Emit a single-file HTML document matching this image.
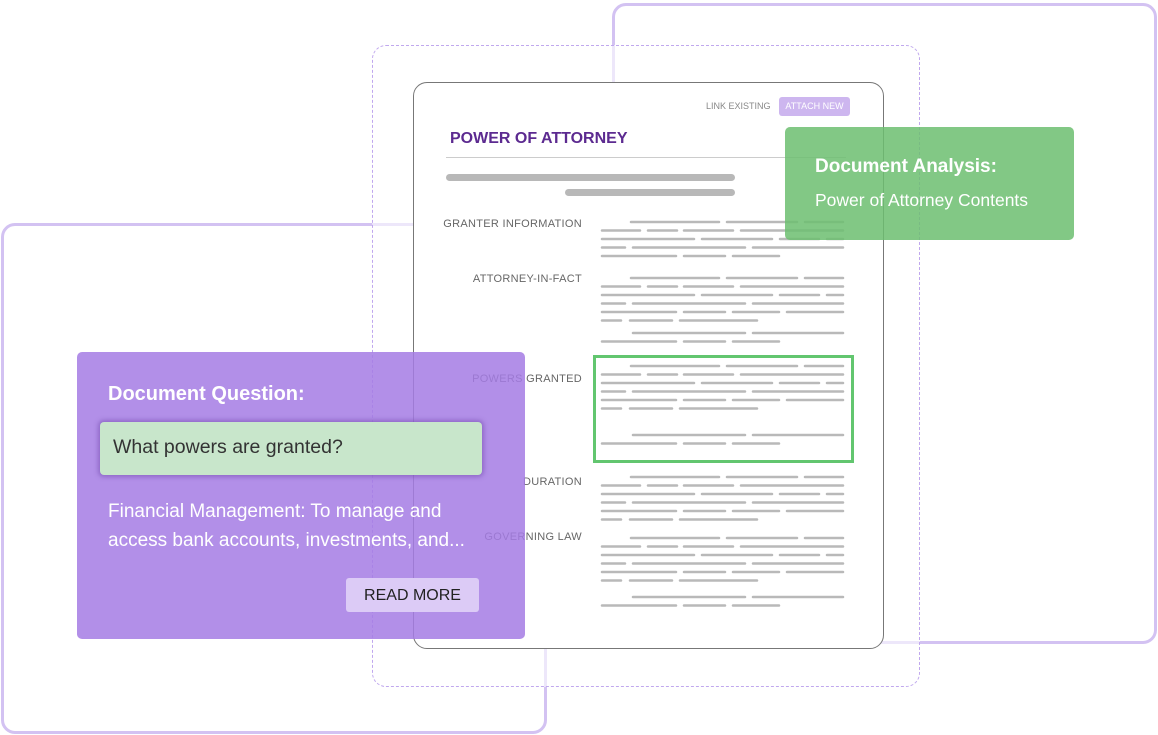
<!DOCTYPE html>
<html><head><meta charset="utf-8"><style>
html,body{margin:0;padding:0;background:#fff;width:1158px;height:735px;overflow:hidden;position:relative;font-family:"Liberation Sans",sans-serif}
.a{position:absolute;box-sizing:border-box}
</style></head><body>
<div class="a" style="left:612px;top:3px;width:545px;height:641px;border:3px solid #d3c2f2;border-radius:14px"></div>
<div class="a" style="left:1px;top:223px;width:546px;height:511px;border:3px solid #d3c2f2;border-radius:14px"></div>
<div class="a" style="left:372px;top:45px;width:548px;height:642px;border:1.5px dashed #c0a8ee;border-radius:14px;background:rgba(255,255,255,0.6)"></div>
<div class="a" style="left:413px;top:82px;width:471px;height:567px;border:1px solid #777;border-radius:14px;background:#fff"></div>
<div class="a" style="left:706px;top:101px;font-size:9px;color:#888">LINK EXISTING</div>
<div class="a" style="left:779px;top:97px;width:71px;height:19px;background:#cdb6ef;border-radius:3px;color:#fff;font-size:9px;line-height:19px;text-align:center">ATTACH NEW</div>
<div class="a" style="left:450px;top:130px;font-size:16px;font-weight:bold;color:#5c2a90">POWER OF ATTORNEY</div>
<div class="a" style="left:446px;top:157px;width:400px;height:1px;background:#ccc"></div>
<div class="a" style="left:446px;top:174px;width:289px;height:7px;background:#b8b8b8;border-radius:4px"></div>
<div class="a" style="left:565px;top:189px;width:170px;height:7px;background:#b8b8b8;border-radius:4px"></div>
<div class="a" style="left:380px;width:202px;top:218px;text-align:right;font-size:11px;color:#666;letter-spacing:.3px">GRANTER INFORMATION</div>
<div class="a" style="left:380px;width:202px;top:273px;text-align:right;font-size:11px;color:#666;letter-spacing:.3px">ATTORNEY-IN-FACT</div>
<div class="a" style="left:380px;width:202px;top:373px;text-align:right;font-size:11px;color:#666;letter-spacing:.3px">POWERS GRANTED</div>
<div class="a" style="left:380px;width:202px;top:476px;text-align:right;font-size:11px;color:#666;letter-spacing:.3px">DURATION</div>
<div class="a" style="left:380px;width:202px;top:531px;text-align:right;font-size:11px;color:#666;letter-spacing:.3px">GOVERNING LAW</div>
<svg class="a" style="left:0;top:0" width="1158" height="735">
<defs>
<path id="b5" d="M631 0h88M727 0h70M805 0h38M602 8.5h38M648 8.5h29M684 8.5h49M741 8.5h102M602 17h92M702 17h70M780 17h39M827 17h16M602 25.5h23M633 25.5h112M753 25.5h90M602 34h74M684 34h41M733 34h46"/>
<path id="b6" d="M631 0h88M727 0h70M805 0h38M602 8.5h38M648 8.5h29M684 8.5h49M741 8.5h102M602 17h92M702 17h70M780 17h39M827 17h16M602 25.5h23M633 25.5h112M753 25.5h90M602 34h74M684 34h41M733 34h46M787 34h56M602 42.5h19M630 42.5h42M680 42.5h77"/>
<path id="t" d="M633 0h112M753 0h90M602 8.5h74M684 8.5h41M733 8.5h46"/>
</defs>
<g stroke="#b9b9b9" stroke-width="2.5" stroke-linecap="round" fill="none">
<use href="#b5" y="222"/>
<use href="#b6" y="278"/><use href="#t" y="333"/>
<use href="#b6" y="366"/><use href="#t" y="435"/>
<use href="#b6" y="477"/>
<use href="#b6" y="538"/><use href="#t" y="597"/>
</g>
<rect x="594.5" y="356.5" width="258" height="105" fill="none" stroke="#62c66f" stroke-width="3"/>
</svg>
<div class="a" style="left:785px;top:127px;width:289px;height:113px;background:rgba(108,190,112,0.85);border-radius:5px"></div>
<div class="a" style="left:815px;top:156px;font-size:19px;font-weight:bold;color:#fff">Document Analysis:</div>
<div class="a" style="left:815px;top:190px;font-size:17.5px;color:#fff">Power of Attorney Contents</div>
<div class="a" style="left:77px;top:352px;width:448px;height:287px;background:rgba(165,123,228,0.85);border-radius:5px"></div>
<div class="a" style="left:108px;top:383px;font-size:20px;font-weight:bold;color:#fff">Document Question:</div>
<div class="a" style="left:100px;top:422px;width:382px;height:53px;background:#c8e6cb;border-radius:4px;box-shadow:0 0 4px 2px rgba(110,70,170,.5)"></div>
<div class="a" style="left:113px;top:436px;font-size:19.5px;color:#333">What powers are granted?</div>
<div class="a" style="left:108px;top:497px;font-size:19px;color:#fff;line-height:29px">Financial Management: To manage and<br>access bank accounts, investments, and...</div>
<div class="a" style="left:346px;top:578px;width:133px;height:34px;background:#dccbf6;border-radius:3px;color:#222;font-size:16px;line-height:35px;text-align:center">READ MORE</div>
</body></html>
